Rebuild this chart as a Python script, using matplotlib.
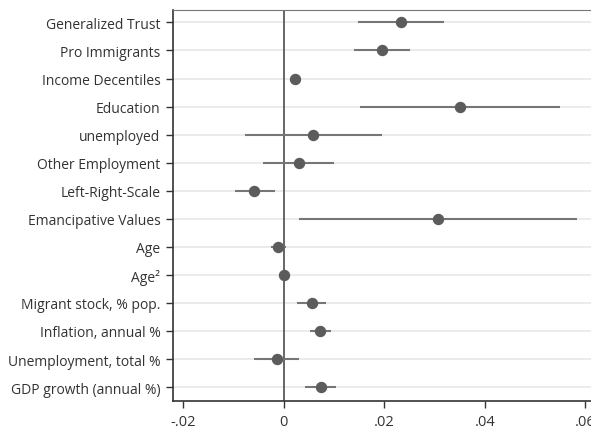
import numpy as np
import matplotlib.pyplot as plt

plt.rcParams['font.family'] = ['Open Sans', 'DejaVu Sans']

labels = ['Generalized Trust', 'Pro Immigrants', 'Income Decentiles', 'Education',
          'unemployed', 'Other Employment', 'Left-Right-Scale', 'Emancipative Values',
          'Age', 'Age\u00b2', 'Migrant stock, % pop.', 'Inflation, annual %',
          'Unemployment, total %', 'GDP growth (annual %)']
coef = [0.0234, 0.0195, 0.0023, 0.0350, 0.0058, 0.0030, -0.0058, 0.0306,
        -0.0011, 0.0001, 0.0056, 0.0073, -0.0013, 0.0074]
ci_low = [0.0148, 0.0139, 0.0020, 0.0152, -0.0077, -0.0041, -0.0097, 0.0030,
          -0.0026, -0.0001, 0.0026, 0.0052, -0.0058, 0.0043]
ci_high = [0.0318, 0.0252, 0.0026, 0.0550, 0.0195, 0.0101, -0.0018, 0.0584,
           0.0005, 0.0003, 0.0085, 0.0095, 0.0031, 0.0105]
xticks = [-0.02, 0, 0.02, 0.04, 0.06]
xticklabels = ['-.02', '0', '.02', '.04', '.06']

y = np.arange(len(labels))

fig = plt.figure(figsize=(5.91, 4.31), dpi=100)
ax = fig.add_axes([0.2927, 0.067, 0.715, 0.908])

for yi in y:
    ax.axhline(yi, color='#e8e8e8', lw=1.2, zorder=0)
ax.axvline(0, color='#5a5a5a', lw=1.3, zorder=1)
ax.hlines(y, ci_low, ci_high, color='#767676', lw=1.5, zorder=2)
ax.plot(coef, y, 'o', color='#5c5c5c', ms=7.2, zorder=3)

ax.set_xlim(-0.022, 0.062)
ax.set_ylim(13.5, -0.45)
ax.set_yticks(y)
ax.set_yticklabels(labels, fontsize=10, color='#333333')
ax.set_xticks(xticks)
ax.set_xticklabels(xticklabels, fontsize=10.5, color='#333333')
ax.tick_params(direction='out', length=5, width=1, color='#333333', pad=4)

for side in ['left', 'bottom']:
    ax.spines[side].set_color('#333333')
    ax.spines[side].set_linewidth(1.2)
ax.spines['top'].set_color('#777777')
ax.spines['right'].set_visible(False)

fig.savefig('out.png', dpi=100)
